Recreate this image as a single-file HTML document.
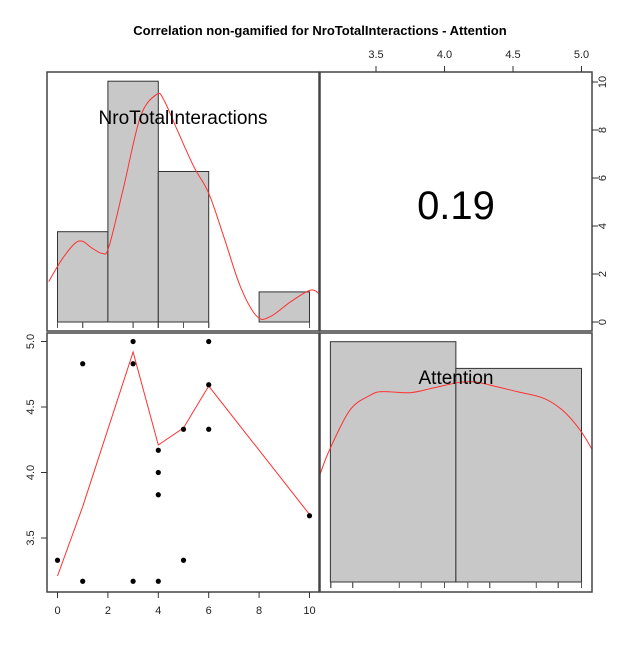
<!DOCTYPE html>
<html><head><meta charset="utf-8"><style>
body{margin:0;background:#fff}
svg{font-family:"Liberation Sans",Arial,sans-serif}
</style></head><body>
<svg id="c" width="640" height="640" viewBox="0 0 640 640">
<text x="320" y="35" text-anchor="middle" font-size="13" font-weight="bold">Correlation non-gamified for NroTotalInteractions - Attention</text>
<g id="g"></g>
</svg>
<script>
const nroX=[0,1,1,3,3,3,4,4,4,4,5,5,6,6,6,10];
const attY=[3.33,3.17,4.83,5,4.83,3.17,4.17,4,3.83,3.17,4.33,3.33,5,4.67,4.33,3.67];
const nroBinEdges=[0,2,4,6,8,10];
const nroCounts=[3,8,5,0,1];
const attBinEdges=[3.167,4.083,5];
const attCounts=[9,8];
const nroDensX=[-0.35,0.25,0.85,1.38,1.77,2.04,2.63,3.29,3.93,4.22,4.75,5.41,6.0,6.6,7.26,7.92,8.45,9.25,10.04,10.44];
const nroDensY=[1.34,2.17,2.69,2.45,2.28,2.5,4.5,6.82,7.56,7.38,6.38,5.16,4.28,2.83,1.17,0.18,0.18,0.67,1.06,0.9];
const attDensX=[3.09,3.16,3.31,3.46,3.55,3.75,3.92,4.09,4.21,4.33,4.53,4.72,4.86,4.99,5.08];
const attDensY=[4.01,4.94,6.44,7.0,7.13,7.09,7.27,7.46,7.5,7.38,7.13,6.89,6.44,5.69,4.94];
const smoothX=[0,1,3,4,5,6,10];
const smoothY=[3.21,3.74,4.92,4.21,4.34,4.66,3.68];
const bottomTicks=[0,2,4,6,8,10];
const leftTicks=[3.5,4.0,4.5,5.0];
const topTicks=[3.5,4.0,4.5,5.0];
const rightTicks=[0,2,4,6,8,10];
const r="";
const corrLabel="0.19";

const NS="http://www.w3.org/2000/svg",G=document.getElementById('g');
function el(t,a,txt){const e=document.createElementNS(NS,t);for(const k in a)e.setAttribute(k,a[k]);if(txt!=null)e.textContent=txt;G.appendChild(e);return e;}
const sx=v=>57.5+25.2*v;           // NroTotalInteractions -> x
const sy=v=>341.5+(5-v)*131;        // Attention -> y (scatter)
const ax=v=>307.5+(v-3)*137;        // Attention -> x (right hist)
const hy1=c=>322-c*30.1;            // count -> y top-left
const hy2=c=>582-c*26.7;            // count -> y bottom-right
const ry=v=>322-v*24;               // right axis

function smooth(xs,ys){let d="M"+xs[0]+","+ys[0];for(let i=0;i<xs.length-1;i++){const x0=xs[Math.max(i-1,0)],y0=ys[Math.max(i-1,0)],x3=xs[Math.min(i+2,xs.length-1)],y3=ys[Math.min(i+2,xs.length-1)];
const c1x=xs[i]+(xs[i+1]-x0)/6,c1y=ys[i]+(ys[i+1]-y0)/6,c2x=xs[i+1]-(x3-xs[i])/6,c2y=ys[i+1]-(y3-ys[i])/6;d+=` C${c1x},${c1y} ${c2x},${c2y} ${xs[i+1]},${ys[i+1]}`;}return d;}

// Top-left histogram
let e;
for(let i=0;i<nroCounts.length;i++){if(!nroCounts[i])continue;
e=el('rect',{x:sx(nroBinEdges[i]),y:hy1(nroCounts[i]),width:sx(nroBinEdges[i+1])-sx(nroBinEdges[i]),height:nroCounts[i]*30.1,fill:'#c8c8c8',stroke:'#333','stroke-width':1});

}
e=el('path',{d:smooth(nroDensX.map(sx),nroDensY.map(hy1)),fill:'none',stroke:'#ff3030','stroke-width':1});


e=el('text',{x:183,y:124,'text-anchor':'middle','font-size':19},'NroTotalInteractions');


nroX.forEach(v=>{el('line',{x1:sx(v),x2:sx(v),y1:322,y2:328,stroke:'#555','stroke-width':1});});

// Bottom-right histogram
for(let i=0;i<attCounts.length;i++){
e=el('rect',{x:ax(attBinEdges[i]),y:hy2(attCounts[i]),width:ax(attBinEdges[i+1])-ax(attBinEdges[i]),height:attCounts[i]*26.7,fill:'#c8c8c8',stroke:'#333','stroke-width':1});

}
e=el('path',{d:smooth(attDensX.map(ax),attDensY.map(hy2)),fill:'none',stroke:'#ff3030','stroke-width':1});


e=el('text',{x:456,y:384,'text-anchor':'middle','font-size':19},'Attention');


attY.forEach(v=>{el('line',{x1:ax(v),x2:ax(v),y1:582,y2:588,stroke:'#555','stroke-width':1});});

// Scatter
e=el('path',{d:'M'+smoothX.map((v,i)=>sx(v)+','+sy(smoothY[i])).join(' L'),fill:'none',stroke:'#ff3030','stroke-width':1});


nroX.forEach((v,i)=>{e=el('circle',{cx:sx(v),cy:sy(attY[i]),r:2.6,fill:'#000'});

});

// Correlation
e=el('text',{x:456,y:219,'text-anchor':'middle','font-size':40},corrLabel);



// Panel frames
[[47,72,272,259],[320,72,272,259],[47,333,272,259],[320,333,272,259]].forEach((p,i)=>{
e=el('rect',{x:p[0],y:p[1],width:p[2],height:p[3],fill:'none',stroke:'#444','stroke-width':1.5});

});

// Axes
bottomTicks.forEach(v=>{el('line',{x1:sx(v),x2:sx(v),y1:592,y2:598,stroke:'#333'});
e=el('text',{x:sx(v),y:614,'text-anchor':'middle','font-size':11,fill:'#222'},String(v));

});
leftTicks.forEach(v=>{el('line',{x1:41,x2:47,y1:sy(v),y2:sy(v),stroke:'#333'});
e=el('text',{x:34,y:sy(v),'text-anchor':'middle','font-size':11,fill:'#222',transform:`rotate(-90 34 ${sy(v)})`},v.toFixed(1));

});
topTicks.forEach(v=>{el('line',{x1:ax(v),x2:ax(v),y1:66,y2:72,stroke:'#333'});
e=el('text',{x:ax(v),y:58,'text-anchor':'middle','font-size':11,fill:'#222'},v.toFixed(1));

});
rightTicks.forEach(v=>{el('line',{x1:592,x2:598,y1:ry(v),y2:ry(v),stroke:'#333'});
e=el('text',{x:606,y:ry(v),'text-anchor':'middle','font-size':11,fill:'#222',transform:`rotate(-90 606 ${ry(v)})`},String(v));

});
</script>
</body></html>
